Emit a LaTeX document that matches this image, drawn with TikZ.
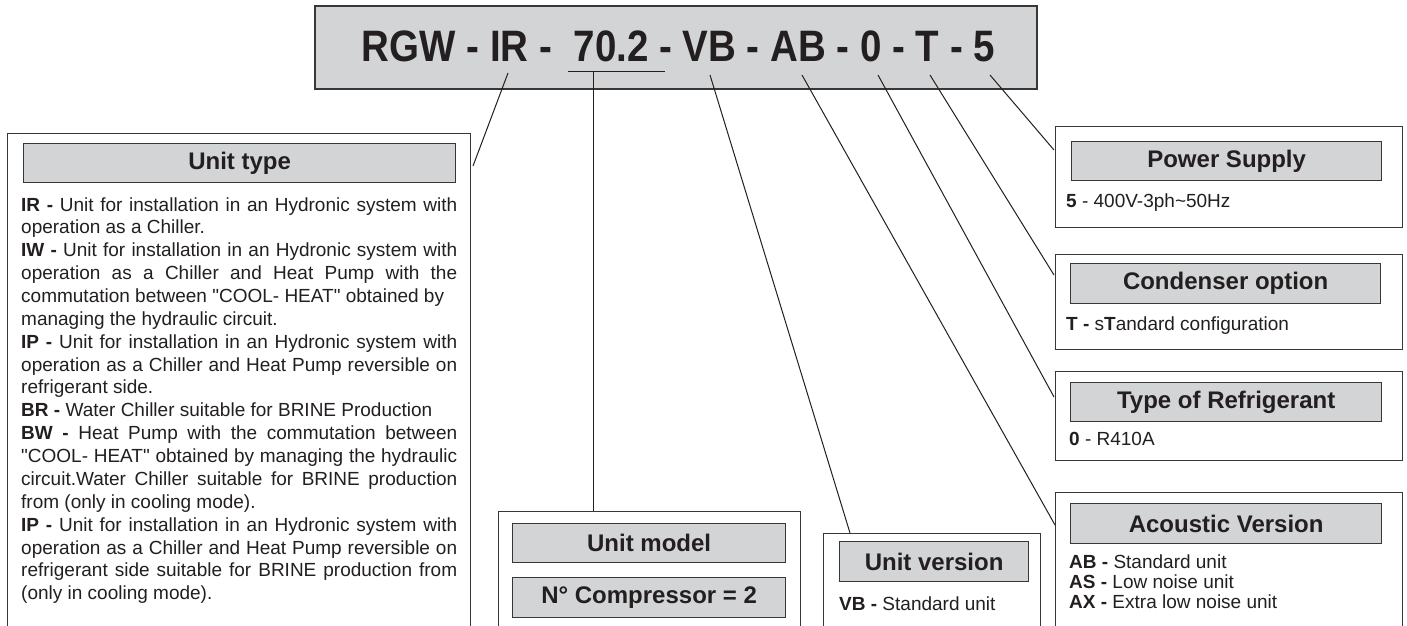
\documentclass[tikz,border=0pt]{standalone}
\usepackage{fontspec}
\setmainfont{Liberation Sans}[Ligatures=TeXOff]
\definecolor{ink}{RGB}{35,31,32}
\definecolor{hgrey}{RGB}{211,212,213}
\definecolor{edge}{RGB}{55,55,55}
\newcommand{\jl}[1]{\makebox[436pt][s]{#1}}
\newcommand{\qq}{\char34}
\begin{document}
\begin{tikzpicture}[x=1pt,y=-1pt,
  outerbox/.style={rectangle, draw=edge, line width=1.2pt, fill=white, inner sep=0pt, anchor=north west},
  hdrbox/.style={rectangle, draw=edge, line width=1.3pt, fill=hgrey, inner sep=0pt, anchor=north west, text=ink, font=\fontsize{24}{24}\selectfont\bfseries},
  bodytext/.style={anchor=base west, inner sep=0pt, text=ink, font=\fontsize{19}{22.87}\selectfont},
  conn/.style={draw=ink, line width=1.0pt}]
\clip (0,0) rectangle (1407,625);
\fill[white] (0,0) rectangle (1407,625);

% title
\node[rectangle, draw=edge, fill=hgrey, line width=1.6pt, inner sep=0pt, anchor=north west, minimum width=722, minimum height=83] (titlebox) at (314,5) {};
\node[anchor=base, inner sep=0pt, text=ink] (title) at (678.5,61) {\scalebox{0.875}[1]{\fontsize{44}{44}\selectfont\bfseries RGW - IR -\ \ 70.2 - VB - AB - 0 - T - 5}};

% unit type
\node[outerbox, minimum width=463, minimum height=520] (utbox) at (7,133) {};
\node[hdrbox, minimum width=432, minimum height=39] (uthdr) at (23,143) {Unit type};
\foreach \txt [count=\i from 0] in {
  {\jl{\textbf{IR -} Unit for installation in an Hydronic system with}},
  {operation as a Chiller.},
  {\jl{\textbf{IW -} Unit for installation in an Hydronic system with}},
  {\jl{operation as a Chiller and Heat Pump with the}},
  {commutation between \qq COOL- HEAT\qq{} obtained by},
  {managing the hydraulic circuit.},
  {\jl{\textbf{IP -} Unit for installation in an Hydronic system with}},
  {\jl{operation as a Chiller and Heat Pump reversible on}},
  {refrigerant side.},
  {\textbf{BR -} Water Chiller suitable for BRINE Production},
  {\jl{\textbf{BW -} Heat Pump with the commutation between}},
  {\jl{\qq COOL- HEAT\qq{} obtained by managing the hydraulic}},
  {\jl{circuit.Water Chiller suitable for BRINE production}},
  {from (only in cooling mode).},
  {\jl{\textbf{IP -} Unit for installation in an Hydronic system with}},
  {\jl{operation as a Chiller and Heat Pump reversible on}},
  {\jl{refrigerant side suitable for BRINE production from}},
  {(only in cooling mode).}}
  \node[bodytext] (ut\i) at (21,211+\i*22.87) {\txt};

% unit model
\node[outerbox, minimum width=302, minimum height=140] (umbox) at (498,511) {};
\node[hdrbox, minimum width=273, minimum height=39] (umhdr) at (512,523) {Unit model};
\node[hdrbox, minimum width=273, minimum height=40] (umcomp) at (512,577) {N° Compressor = 2};

% unit version
\node[outerbox, minimum width=217, minimum height=120] (uvbox) at (823,533) {};
\node[hdrbox, minimum width=189, minimum height=40] (uvhdr) at (839,541) {Unit version};
\node[bodytext] (uvt) at (839,610) {\textbf{VB -} Standard unit};

% power supply
\node[outerbox, minimum width=347, minimum height=101] (psbox) at (1055,126) {};
\node[hdrbox, minimum width=310, minimum height=39] (pshdr) at (1071,141) {Power Supply};
\node[bodytext] (pst) at (1066,207) {\textbf{5} - 400V-3ph\textasciitilde 50Hz};

% condenser option
\node[outerbox, minimum width=347, minimum height=95] (cobox) at (1055,254) {};
\node[hdrbox, minimum width=310, minimum height=40] (cohdr) at (1070,263) {Condenser option};
\node[bodytext] (cot) at (1066,330) {\textbf{T -} s\textbf{T}andard configuration};

% refrigerant
\node[outerbox, minimum width=347, minimum height=89] (rfbox) at (1055,371) {};
\node[hdrbox, minimum width=311, minimum height=39] (rfhdr) at (1070,382) {Type of Refrigerant};
\node[bodytext] (rft) at (1069,445) {\textbf{0} - R410A};

% acoustic version
\node[outerbox, minimum width=347, minimum height=150] (avbox) at (1055,492) {};
\node[hdrbox, minimum width=311, minimum height=40] (avhdr) at (1070,503) {Acoustic Version};
\node[bodytext] (av1) at (1069,568) {\textbf{AB -} Standard unit};
\node[bodytext] (av2) at (1069,588.5) {\textbf{AS -} Low noise unit};
\node[bodytext] (av3) at (1069,608) {\textbf{AX -} Extra low noise unit};

% connectors
\coordinate (sIR) at (508,73);  \coordinate (eIR) at (473,166);
\coordinate (u1) at (568,71);   \coordinate (u2) at (665,71);  \coordinate (uM) at (593.5,71);
\coordinate (sVB) at (710,75);  \coordinate (eVB) at (850,533);
\coordinate (sAB) at (802,75);  \coordinate (eAB) at (1055,525);
\coordinate (s0) at (878,75);   \coordinate (e0) at (1054,397);
\coordinate (sT) at (930,75);   \coordinate (eT) at (1054,275);
\coordinate (s5) at (990,75);   \coordinate (e5) at (1054,150);
\draw[conn] (sIR) -- (eIR);
\draw[conn] (u1) -- (u2);
\draw[conn] (uM) -- (uM |- umbox.north);
\draw[conn] (sVB) -- (eVB);
\draw[conn] (sAB) -- (eAB);
\draw[conn] (s0) -- (e0);
\draw[conn] (sT) -- (eT);
\draw[conn] (s5) -- (e5);
\end{tikzpicture}
\end{document}
